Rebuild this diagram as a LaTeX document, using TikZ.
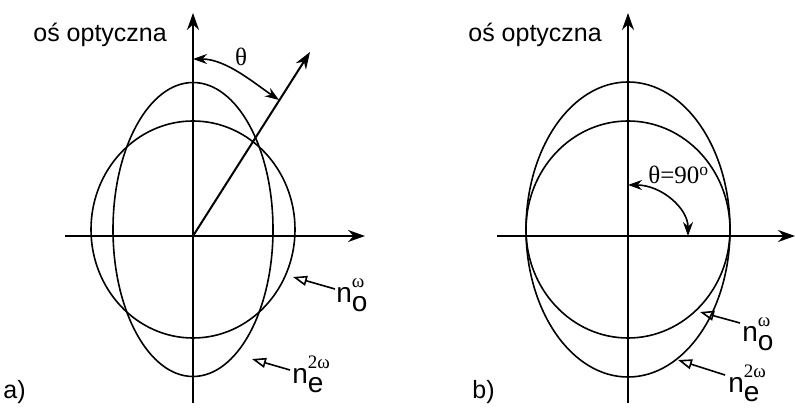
\documentclass[tikz,border=0pt]{standalone}
\usepackage{fontspec}
\setmainfont{Liberation Sans}
\newfontfamily\grk{Liberation Serif}
\usetikzlibrary{arrows.meta}
\newcommand{\nidx}[2]{n\rlap{\raisebox{-4.5pt}{#1}}\raisebox{7.5pt}{\fontsize{9.5}{9.5}\selectfont\grk #2}}

\begin{document}
\begin{tikzpicture}[x=0.5pt, y=-0.5pt,
  axis/.style={line width=1pt, -{Stealth[length=8.5pt, width=6pt]}},
  curve/.style={line width=0.8pt},
  pointer/.style={line width=0.8pt, -{Triangle[open, length=7pt, width=5pt]}},
  angarr/.style={line width=0.8pt, {Stealth[length=7pt, width=5pt]}-{Stealth[length=7pt, width=5pt]}},
  txt/.style={inner sep=0pt, font=\fontsize{12.5}{15}\selectfont},
  idx/.style={inner sep=0pt, anchor=base west, font=\fontsize{14}{16}\selectfont},
  ang/.style={inner sep=0pt, font=\fontsize{12.5}{15}\selectfont\grk}]
\useasboundingbox (0,0) rectangle (795,410);

% --- a) ellipse elongated along the optic axis ---
\coordinate (Oa) at (193,236);
\coordinate (Ca) at (193,229.5);
\coordinate (xaL) at (65,236);
\coordinate (xaR) at (365,236);
\coordinate (yaB) at (193,403);
\coordinate (yaT) at (193,13);
\coordinate (kA) at (310,52);

\draw[curve] (Ca) ellipse [x radius=102, y radius=108.5];
\draw[curve] (Ca) ellipse [x radius=80, y radius=147];
\draw[axis] (xaL) -- (xaR);
\draw[axis] (yaB) -- (yaT);
\draw[axis] (Oa) -- (kA);

% theta arc
\coordinate (tA1) at (193,59);
\coordinate (tA2) at (279,100);
\draw[angarr] (tA1) .. controls (226,59) and (254,83) .. (tA2);
\node[ang] (thA) at (241,57) {θ};

\node[txt, anchor=base west] (osA) at (33,42) {oś optyczna};
\node[txt, anchor=base west] (labA) at (3,398) {a)};

% refractive index labels
\node[idx] (noA) at (336,303) {\nidx{o}{ω}};
\node[idx] (neA) at (292,383) {\nidx{e}{2ω}};
\coordinate (pA1) at (293,277);
\coordinate (pA2) at (252,359);
\draw[pointer] ([shift={(-1,-14)}]noA.base west) -- (pA1);
\draw[pointer] ([shift={(-2,-13)}]neA.base west) -- (pA2);

% --- b) theta = 90 deg ---
\coordinate (Ob) at (628,236);
\coordinate (Cb) at (628,229.5);
\coordinate (xbL) at (497,236);
\coordinate (xbR) at (795,236);
\coordinate (ybB) at (628,403);
\coordinate (ybT) at (628,13);

\draw[curve] (Cb) ellipse [x radius=102, y radius=108.5];
\draw[curve] (Cb) ellipse [x radius=102, y radius=147.5];
\draw[axis] (xbL) -- (xbR);
\draw[axis] (ybB) -- (ybT);

\coordinate (tB1) at (628,185);
\coordinate (tB2) at (688,236);
\draw[angarr] (tB1) .. controls (661,185) and (688,208) .. (tB2);
\node[ang, anchor=base west] (thB) at (648,184) {θ=90\textsuperscript{o}};

\node[txt, anchor=base west] (osB) at (468,42) {oś optyczna};
\node[txt, anchor=base west] (labB) at (472,398) {b)};

\node[idx] (noB) at (742,342) {\nidx{o}{ω}};
\node[idx] (neB) at (728,392) {\nidx{e}{2ω}};
\coordinate (pB1) at (700,312);
\coordinate (pB2) at (678,360);
\draw[pointer] ([shift={(-2,-19)}]noB.base west) -- (pB1);
\draw[pointer] ([shift={(-3,-17)}]neB.base west) -- (pB2);

\end{tikzpicture}
\end{document}
